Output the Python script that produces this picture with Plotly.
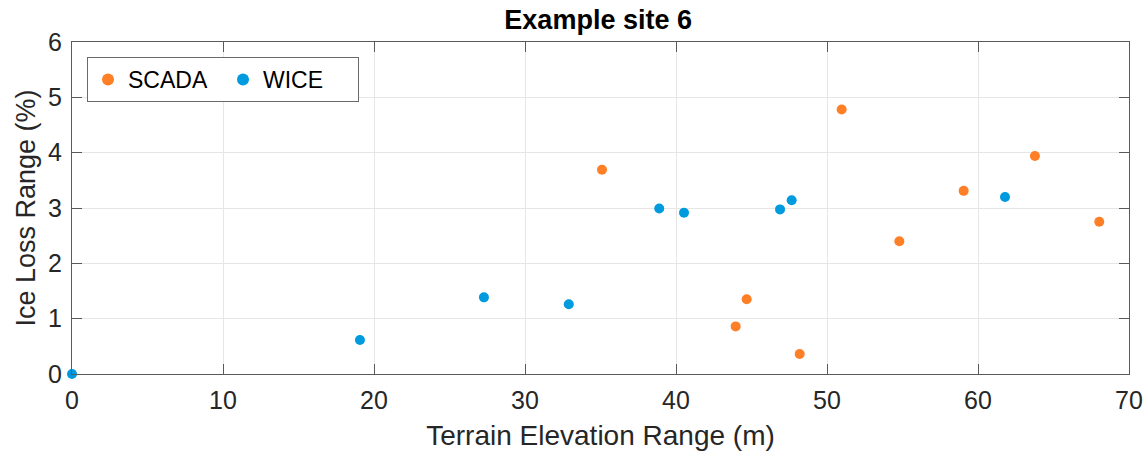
import plotly.graph_objects as go

scada_x = [35.1, 50.97, 44.68, 43.95, 48.19, 54.79, 59.05, 63.77, 68.03]
scada_y = [3.69, 4.78, 1.35, 0.86, 0.36, 2.40, 3.31, 3.94, 2.75]
wice_x = [0.0, 19.07, 27.28, 32.9, 38.89, 40.53, 46.89, 47.66, 61.79]
wice_y = [0.0, 0.614, 1.385, 1.26, 2.99, 2.915, 2.975, 3.14, 3.20]

x_ticks = [0, 10, 20, 30, 40, 50, 60, 70]
y_ticks = [0, 1, 2, 3, 4, 5, 6]

fig = go.Figure()
fig.add_trace(go.Scatter(x=scada_x, y=scada_y, mode="markers", name="SCADA",
                         marker=dict(color="#FF7F27", size=10), cliponaxis=False))
fig.add_trace(go.Scatter(x=wice_x, y=wice_y, mode="markers", name="WICE",
                         marker=dict(color="#009ADE", size=10), cliponaxis=False))

font = "Liberation Sans, Arial, Helvetica, sans-serif"
axis_common = dict(showgrid=True, gridcolor="#e6e6e6", gridwidth=1, automargin=False,
                   showline=True, linecolor="#5a5a5a", linewidth=1.3, mirror="ticks",
                   ticks="inside", ticklen=10, tickcolor="#5a5a5a", tickwidth=1.3,
                   zeroline=False, tickfont=dict(size=25, color="#262626", family=font))

fig.update_layout(
    width=1147, height=451,
    margin=dict(l=72, r=18, t=42, b=77),
    paper_bgcolor="white", plot_bgcolor="white",
    title=dict(text="<b>Example site 6</b>", x=0.5215, xanchor="center", y=0.978, yanchor="top",
               font=dict(size=27, color="black", family=font)),
    xaxis=dict(range=[0, 70], tickvals=x_ticks, ticklabelstandoff=4, **axis_common,
               title=dict(text="Terrain Elevation Range (m)", standoff=14,
                          font=dict(size=28, color="#262626", family=font))),
    yaxis=dict(range=[0, 6], tickvals=y_ticks, ticklabelstandoff=4, **axis_common,
               title=dict(text="Ice Loss Range (%)", standoff=4,
                          font=dict(size=27, color="#262626", family=font))),
    legend=dict(orientation="h", x=0.0142, y=0.955, xanchor="left", yanchor="top",
                bgcolor="white", bordercolor="#6a6a6a", borderwidth=1,
                font=dict(size=23, color="black", family=font),
                itemsizing="constant", entrywidth=90, tracegroupgap=0),
    showlegend=True,
)

fig.write_html("out.html")
